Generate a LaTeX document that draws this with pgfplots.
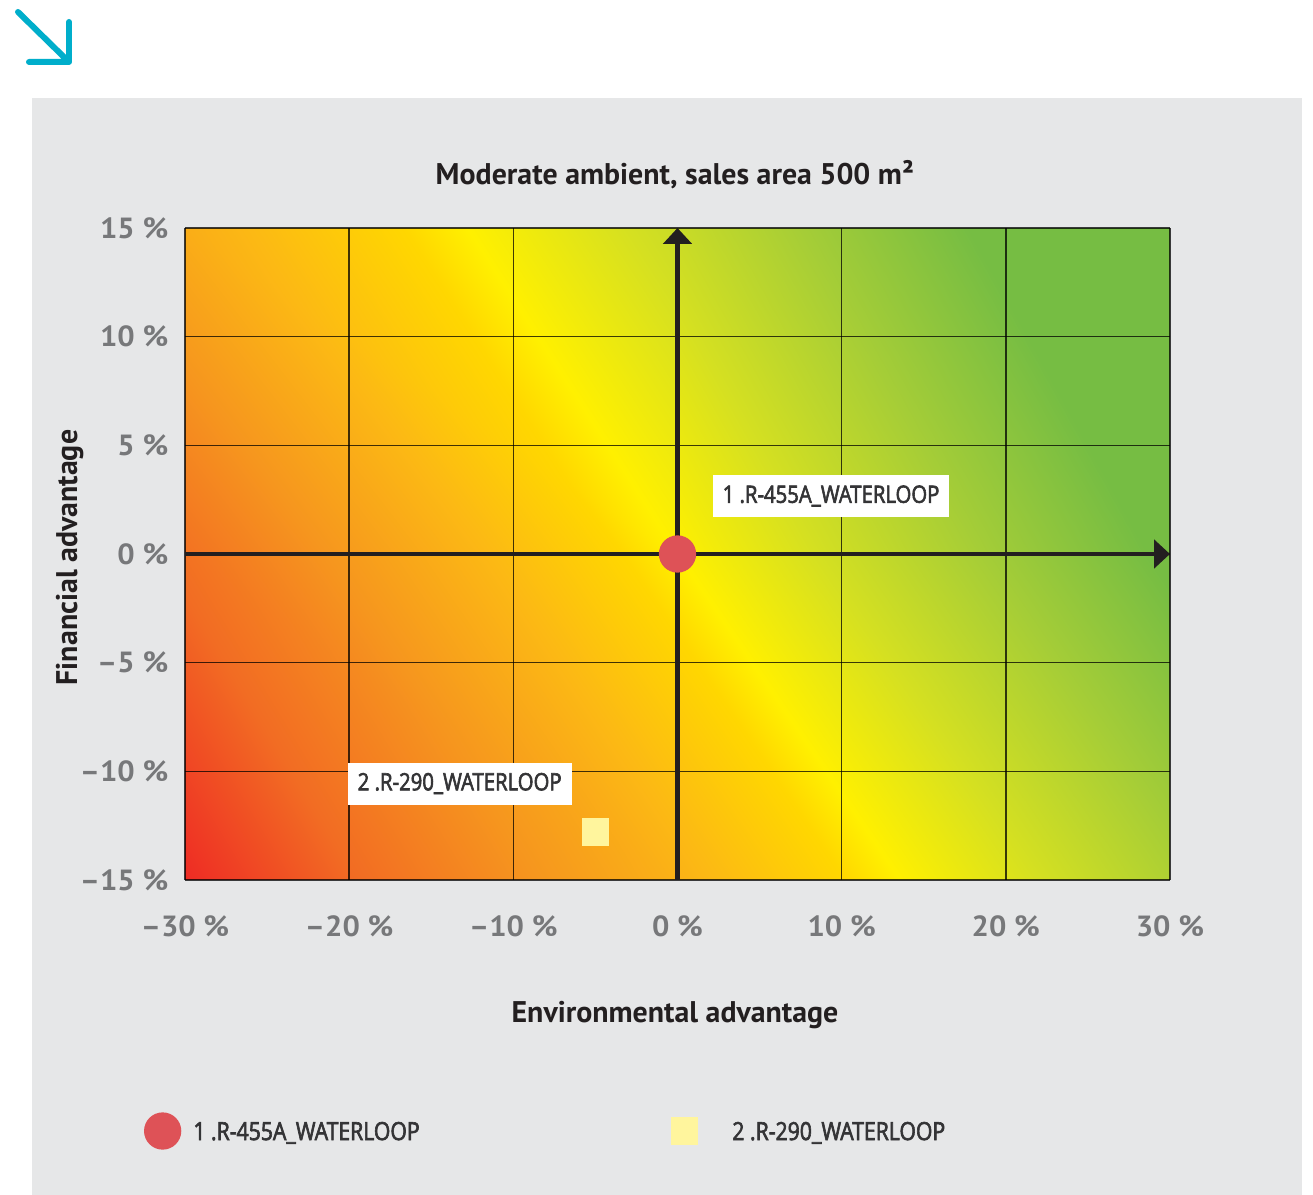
\documentclass[border=0pt]{standalone}
\usepackage{pgfplots}
\pgfplotsset{compat=1.18}
\usetikzlibrary{arrows.meta}
\usepackage{fontspec}
\setmainfont{PT Sans}
\newfontfamily\tickfont[FakeStretch=1.05]{PT Sans}
\newfontfamily\lblfont[FakeStretch=0.85, FakeBold=2.5]{Open Sans}
\definecolor{panel}{RGB}{230,231,232}
\definecolor{cyanarrow}{RGB}{0,174,203}
\definecolor{tickgray}{RGB}{119,120,122}
\definecolor{darktext}{RGB}{35,31,32}
\definecolor{labeltext}{RGB}{52,52,54}
\definecolor{ptred}{RGB}{222,82,87}
\definecolor{ptyellow}{RGB}{255,245,157}
\pgfplotsset{colormap={bggrad}{
  rgb255(0cm)=(238,43,36)
  rgb255(1.17cm)=(242,108,35)
  rgb255(2.39cm)=(246,150,30)
  rgb255(3.61cm)=(252,185,20)
  rgb255(4.6cm)=(255,215,0)
  rgb255(5.0cm)=(255,240,0)
  rgb255(6.03cm)=(213,224,33)
  rgb255(7.27cm)=(165,205,55)
  rgb255(8.5cm)=(118,189,67)
  rgb255(10cm)=(118,189,67)
}}
\newcommand\ticklblfont{\tickfont\bfseries\fontsize{8.3}{9}\selectfont}
\newcommand\headfont{\bfseries\fontsize{8.5}{10}\selectfont}
\newcommand\boxfont{\lblfont\fontsize{6.8}{8}\selectfont}
\pgfplotsset{
  legA/.style={legend image code/.code={\draw[##1] plot coordinates {(0mm,0mm)}; \path (3.0mm,0mm);}},
  legB/.style={legend image code/.code={\draw[##1] plot coordinates {(0mm,0mm)}; \path (4.7mm,0mm);}},
  frame/.style={at={(1.85cm,3.15cm)}, anchor=south west,
    scale only axis, width=9.85cm, height=6.52cm,
    xmin=-30, xmax=30, ymin=-15, ymax=15},
}
\begin{document}
\begin{tikzpicture}[x=1cm,y=1cm]
\useasboundingbox (0,0) rectangle (13.13,11.95);
\fill[white] (0,0) rectangle (13.13,11.95);
\fill[panel] (0.32,0) rectangle (13.02,10.97);
\draw[cyanarrow, line width=1.7pt, line cap=round, line join=round]
  (0.18,11.83) -- (0.69,11.33) (0.69,11.73) -- (0.69,11.33) -- (0.29,11.33);
% background gradient (colour parameter read at the corners / mid points of the plot area)
\begin{axis}[frame, hide axis, colormap name=bggrad, point meta min=0, point meta max=1]
\addplot[surf, shader=interp, point meta=explicit, mesh/cols=3] coordinates {
  (-30,-15) [0] (0,-15) [0.335] (30,-15) [0.70]

  (-30,0) [0.134] (0,0) [0.5] (30,0) [0.866]

  (-30,15) [0.32] (0,15) [0.634] (30,15) [1]
};
\end{axis}
% main chart
\begin{axis}[frame,
  clip=false,
  axis line style={draw=none},
  major tick length=0pt,
  xtick={-30,-20,-10,0,10,20,30},
  xticklabels={{–30 \%},{–20 \%},{–10 \%},{0 \%},{10 \%},{20 \%},{30 \%}},
  ytick={-15,-10,-5,0,5,10,15},
  yticklabels={{–15 \%},{–10 \%},{–5 \%},{0 \%},{5 \%},{10 \%},{15 \%}},
  xticklabel style={font=\ticklblfont, text=tickgray, anchor=center, inner sep=0pt, yshift=-4.67mm},
  yticklabel style={font=\ticklblfont, text=tickgray, anchor=east, inner sep=0pt, xshift=-1.6mm},
  grid=major,
  major grid style={black, opacity=0.75, line width=0.42pt},
  title={Moderate ambient, sales area 500 m²},
  title style={at={(axis description cs:0.4975,1.0337)}, anchor=base, font=\headfont, text=darktext},
  xlabel={Environmental advantage},
  xlabel style={at={(axis description cs:0.4975,-0.2183)}, anchor=base, font=\headfont, text=darktext},
  ylabel={Financial advantage},
  ylabel style={at={(axis description cs:-0.1096,0.4946)}, anchor=base, font=\headfont, text=darktext},
  legend columns=2,
  legend cell align=left,
  legend style={at={(axis description cs:-0.0416,-0.385)}, anchor=west, draw=none, fill=none,
    inner sep=0pt, nodes={inner sep=0pt, text depth=0pt},
    font=\lblfont\fontsize{7.1}{8}\selectfont, text=labeltext,
    /tikz/every even column/.append style={column sep=25.2mm}},
]
\draw[darktext, line width=1.42pt, -{Triangle[length=4.5pt,width=8pt]}] (axis cs:0,-15) -- (axis cs:0,15);
\draw[darktext, line width=1.42pt, -{Triangle[length=4.5pt,width=8pt]}] (axis cs:-30,0) -- (axis cs:30,0);
\addplot[only marks, color=ptred, mark=*, mark size=5.1pt, mark options={fill=ptred, draw=ptred}, legA]
  coordinates {(0,0)};
\addlegendentry{1 .R-455A\_WATERLOOP}
\addplot[only marks, color=ptyellow, mark=square*, mark size=3.7pt, mark options={fill=ptyellow, draw=ptyellow}, legB]
  coordinates {(-5,-12.8)};
\addlegendentry{2 .R-290\_WATERLOOP}
\node[fill=white, anchor=west, inner xsep=1mm, inner ysep=0pt, minimum height=4.2mm, font=\boxfont, text=labeltext] at (axis cs:2.1,2.67) {1 .R-455A\_WATERLOOP};
\node[fill=white, anchor=west, inner xsep=1mm, inner ysep=0pt, minimum height=4.2mm, font=\boxfont, text=labeltext] at (axis cs:-20.13,-10.56) {2 .R-290\_WATERLOOP};
\end{axis}
\end{tikzpicture}
\end{document}
